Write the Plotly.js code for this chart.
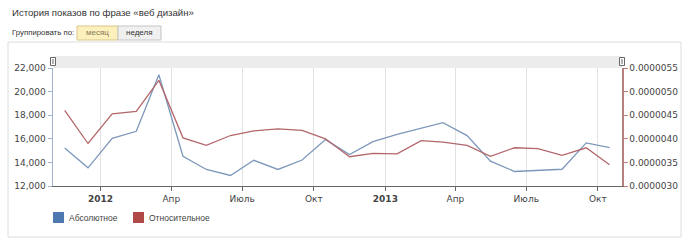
<!DOCTYPE html>
<html><head><meta charset="utf-8">
<script src="https://cdn.plot.ly/plotly-3.0.1.min.js"></script>
<style>html,body{margin:0;padding:0;background:#fff;}#chart{width:688px;height:242px;}</style>
</head><body><div id="chart"></div>
<script>
const months = ["2011-11-16","2011-12-16","2012-01-16","2012-02-16","2012-03-16","2012-04-16","2012-05-16","2012-06-16","2012-07-16","2012-08-16","2012-09-16","2012-10-16","2012-11-16","2012-12-16","2013-01-16","2013-02-16","2013-03-16","2013-04-16","2013-05-16","2013-06-16","2013-07-16","2013-08-16","2013-09-16","2013-10-16"];
const absoluteValues = [15230,13540,16040,16640,21430,14520,13400,12890,14180,13400,14200,15930,14660,15760,16380,16920,17370,16270,14100,13230,13310,13420,15650,15260];
const relativeValues = [0.00000460,0.00000390,0.00000453,0.00000458,0.00000524,0.00000402,0.00000386,0.00000407,0.00000417,0.00000421,0.00000418,0.00000400,0.00000362,0.00000369,0.00000368,0.00000396,0.00000393,0.00000386,0.00000363,0.00000381,0.00000379,0.00000365,0.00000381,0.00000345];
const tickDates = ["2012-01-01","2012-04-01","2012-07-01","2012-10-01","2013-01-01","2013-04-01","2013-07-01","2013-10-01"];
const tickLabels = ["<b>2012</b>","Апр","Июль","Окт","<b>2013</b>","Апр","Июль","Окт"];
const leftTicks = [12000,14000,16000,18000,20000,22000];
const rightTicks = [0.0000030,0.0000035,0.0000040,0.0000045,0.0000050,0.0000055];
const seriesNames = ["Абсолютное","Относительное"];
const chartTitle = "История показов по фразе «веб дизайн»";

const W = 688, H = 242, L = 53, R = 622, T = 68, B = 186;
const px = x => (x - L) / (R - L);
const py = y => (B - y) / (B - T);

const font = "DejaVu Sans, Verdana, sans-serif";
const sans = "Liberation Sans, Arial, sans-serif";
const blue = "#7d98bb", red = "#b3676b";

const data = [
  {x: months, y: absoluteValues, name: seriesNames[0], type: "scatter", mode: "lines",
   line: {color: blue, width: 1.3}, yaxis: "y"},
  {x: months, y: relativeValues, name: seriesNames[1], type: "scatter", mode: "lines",
   line: {color: red, width: 1.3}, yaxis: "y2"}
];

const shapes = [
  {type:"rect", xref:"paper", yref:"paper", x0:px(8), x1:px(681), y0:py(42), y1:py(237), line:{color:"#dcdcdc", width:1}, fillcolor:"rgba(0,0,0,0)", layer:"below"},
  {type:"rect", xref:"paper", yref:"paper", x0:0, x1:1, y0:1, y1:py(56), line:{width:0}, fillcolor:"#ececec", layer:"below"},
  {type:"rect", xref:"paper", yref:"paper", x0:px(50.5), x1:px(55.5), y0:py(65.5), y1:py(57.5), line:{color:"#666", width:1}, fillcolor:"#fff"},
  {type:"line", xref:"paper", yref:"paper", x0:px(53), x1:px(53), y0:py(64), y1:py(59), line:{color:"#666", width:1}},
  {type:"rect", xref:"paper", yref:"paper", x0:px(619.5), x1:px(624.5), y0:py(65.5), y1:py(57.5), line:{color:"#666", width:1}, fillcolor:"#fff"},
  {type:"line", xref:"paper", yref:"paper", x0:px(622), x1:px(622), y0:py(64), y1:py(59), line:{color:"#666", width:1}},
  {type:"rect", xref:"paper", yref:"paper", x0:px(77), x1:px(118), y0:py(40), y1:py(26), line:{color:"#d9c68a", width:1}, fillcolor:"#fcf0bd"},
  {type:"rect", xref:"paper", yref:"paper", x0:px(118), x1:px(161), y0:py(40), y1:py(26), line:{color:"#c4c4c4", width:1}, fillcolor:"#f0f0f0"},
  {type:"rect", xref:"paper", yref:"paper", x0:px(53), x1:px(64), y0:py(223), y1:py(212), line:{width:0}, fillcolor:"#4d79b0"},
  {type:"rect", xref:"paper", yref:"paper", x0:px(133), x1:px(144), y0:py(223), y1:py(212), line:{width:0}, fillcolor:"#b04848"}
];

const annotations = [
  {text: chartTitle, xref:"paper", yref:"paper", x:px(10), y:py(13), xanchor:"left", yanchor:"middle", showarrow:false, font:{family:sans, size:9.6, color:"#333"}},
  {text: "Группировать по:", xref:"paper", yref:"paper", x:px(10), y:py(33), xanchor:"left", yanchor:"middle", showarrow:false, font:{family:sans, size:7.8, color:"#333"}},
  {text: "месяц", xref:"paper", yref:"paper", x:px(97.5), y:py(33), xanchor:"center", yanchor:"middle", showarrow:false, font:{family:sans, size:8, color:"#8a7a55"}},
  {text: "неделя", xref:"paper", yref:"paper", x:px(139.5), y:py(33), xanchor:"center", yanchor:"middle", showarrow:false, font:{family:sans, size:8, color:"#333"}},
  {text: seriesNames[0], xref:"paper", yref:"paper", x:px(67), y:py(218), xanchor:"left", yanchor:"middle", showarrow:false, font:{family:sans, size:8.5, color:"#444"}},
  {text: seriesNames[1], xref:"paper", yref:"paper", x:px(147), y:py(218), xanchor:"left", yanchor:"middle", showarrow:false, font:{family:sans, size:8.5, color:"#444"}}
];

const layout = {
  width: W, height: H,
  margin: {l: L, r: W - R, t: T, b: H - B, pad: 0},
  paper_bgcolor: "#fff", plot_bgcolor: "rgba(0,0,0,0)",
  showlegend: false,
  font: {family: font, size: 9, color: "#444"},
  xaxis: {type: "date", range: ["2011-11-01","2013-11-01"], tickmode: "array", tickvals: tickDates, ticktext: tickLabels,
          showgrid: true, gridcolor: "#e2e2e2", gridwidth: 1, showline: true, linecolor: "#666", linewidth: 1,
          ticks: "outside", ticklen: 4, tickcolor: "#666", zeroline: false, fixedrange: true},
  yaxis: {range: [12000, 22000], tickmode: "array", tickvals: leftTicks, tickformat: ",d", showgrid: false,
          showline: true, linecolor: "#9fb3cf", linewidth: 1.5, ticks: "outside", ticklen: 4, tickcolor: "#9fb3cf", zeroline: false},
  yaxis2: {range: [0.0000030, 0.0000055], overlaying: "y", side: "right", tickmode: "array", tickvals: rightTicks, tickformat: ".7f",
           showgrid: false, showline: true, linecolor: "#b98080", linewidth: 1.5, ticks: "outside", ticklen: 4, tickcolor: "#b98080", zeroline: false},
  shapes: shapes,
  annotations: annotations
};

Plotly.newPlot("chart", data, layout, {displayModeBar: false, staticPlot: true});
</script>
</body></html>
